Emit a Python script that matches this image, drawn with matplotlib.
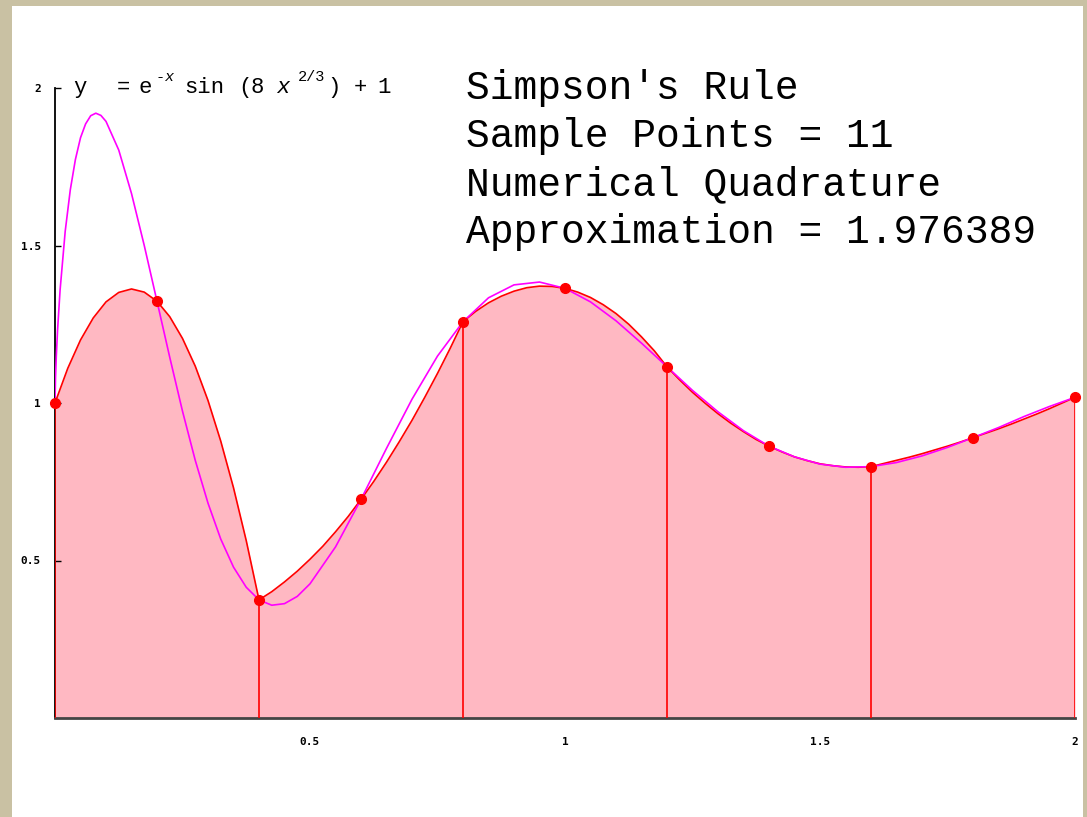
#!/usr/bin/env python
############################################################
import numpy as np
import matplotlib as mpl
import matplotlib.pyplot as plt
from matplotlib.patches import Rectangle

mpl.use('agg')
mpl.rcParams['axes.unicode_minus'] = False

############################################################
# values
############################################################
# function curve (magenta)
fx = [0, 0.001, 0.0025, 0.005, 0.01, 0.02, 0.03, 0.04, 0.05, 0.06,
      0.07, 0.08, 0.09, 0.1, 0.125, 0.15, 0.175, 0.2, 0.225, 0.25,
      0.275, 0.3, 0.325, 0.35, 0.375, 0.4, 0.425, 0.45, 0.475, 0.5,
      0.55, 0.6, 0.65, 0.7, 0.75, 0.8, 0.85, 0.9, 0.95, 1.0,
      1.05, 1.1, 1.15, 1.2, 1.25, 1.3, 1.35, 1.4, 1.45, 1.5,
      1.55, 1.6, 1.65, 1.7, 1.75, 1.8, 1.85, 1.9, 1.95, 2.0]
fy = [1.0, 1.080, 1.146, 1.231, 1.359, 1.545, 1.677, 1.773, 1.842, 1.886,
      1.912, 1.920, 1.913, 1.894, 1.803, 1.665, 1.500, 1.323, 1.145, 0.974,
      0.818, 0.682, 0.568, 0.479, 0.415, 0.375, 0.358, 0.363, 0.386, 0.426,
      0.543, 0.694, 0.856, 1.012, 1.149, 1.258, 1.334, 1.375, 1.384, 1.364,
      1.321, 1.261, 1.190, 1.115, 1.040, 0.972, 0.912, 0.863, 0.829, 0.806,
      0.796, 0.798, 0.811, 0.832, 0.859, 0.890, 0.922, 0.957, 0.989, 1.018]

# Simpson parabolas (red), every 0.025
sx = [0.0, 0.025, 0.05, 0.075, 0.1, 0.125, 0.15, 0.175, 0.2, 0.225,
      0.25, 0.275, 0.3, 0.325, 0.35, 0.375, 0.4, 0.425, 0.45, 0.475,
      0.5, 0.525, 0.55, 0.575, 0.6, 0.625, 0.65, 0.675, 0.7, 0.725,
      0.75, 0.775, 0.8, 0.825, 0.85, 0.875, 0.9, 0.925, 0.95, 0.975,
      1.0, 1.025, 1.05, 1.075, 1.1, 1.125, 1.15, 1.175, 1.2, 1.225,
      1.25, 1.275, 1.3, 1.325, 1.35, 1.375, 1.4, 1.425, 1.45, 1.475,
      1.5, 1.525, 1.55, 1.575, 1.6, 1.625, 1.65, 1.675, 1.7, 1.725,
      1.75, 1.775, 1.8, 1.825, 1.85, 1.875, 1.9, 1.925, 1.95, 1.975, 2.0]
sy = [1.000, 1.110, 1.200, 1.270, 1.321, 1.351, 1.362, 1.352, 1.323, 1.274,
      1.205, 1.117, 1.008, 0.879, 0.731, 0.563, 0.375, 0.401, 0.432, 0.466,
      0.504, 0.545, 0.591, 0.640, 0.694, 0.751, 0.812, 0.877, 0.945, 1.018,
      1.094, 1.174, 1.258, 1.291, 1.318, 1.339, 1.355, 1.366, 1.371, 1.370,
      1.364, 1.352, 1.335, 1.312, 1.284, 1.250, 1.210, 1.166, 1.115, 1.073,
      1.034, 0.999, 0.966, 0.936, 0.909, 0.884, 0.863, 0.845, 0.829, 0.817,
      0.807, 0.801, 0.797, 0.796, 0.798, 0.808, 0.818, 0.828, 0.839, 0.851,
      0.863, 0.876, 0.890, 0.904, 0.918, 0.933, 0.949, 0.965, 0.982, 1.000, 1.018]

# sample points
px = [0.0, 0.2, 0.4, 0.6, 0.8, 1.0, 1.2, 1.4, 1.6, 1.8, 2.0]
py = [1.0, 1.323, 0.375, 0.694, 1.258, 1.364, 1.115, 0.863, 0.798, 0.890, 1.018]

# panel edges
ex = [0.0, 0.4, 0.8, 1.2, 1.6, 2.0]
ey = [1.0, 0.375, 1.258, 1.115, 0.798, 1.018]

xticks = [0.5, 1, 1.5, 2]
yticks = [0.5, 1, 1.5, 2]
ticklabels = ['0.5', '1', '1.5', '2']
info = ["Simpson's Rule",
        "Sample Points = 11",
        "Numerical Quadrature",
        "Approximation = 1.976389"]

# formula pieces: (text, x pixel, superscript?, italic?)
formula = [('y', 73, False, False), ('=', 117, False, False),
           ('e', 139, False, False), ('-', 156, True, False),
           ('x', 164, True, True), ('sin', 184, False, False),
           ('(', 238, False, False), ('8', 251, False, False),
           ('x', 276, False, True), ('2/3', 298, True, False),
           (')', 327, False, False), ('+', 354, False, False),
           ('1', 377, False, False)]
############################################################

fig = plt.figure(figsize=(10.87, 8.17), dpi=100, facecolor='#C9C1A3')
fig.add_artist(Rectangle((12/1087, 0), 1071/1087, 811/817,
                         transform=fig.transFigure, facecolor='white',
                         edgecolor='none', zorder=0))

ax = fig.add_axes([55/1087, 99/817, 1020/1087, 630/817])
ax.set_facecolor('none')

ax.fill_between(sx, 0, sy, color='#FFB8C2', lw=0, zorder=1)
ax.plot(sx, sy, color='red', lw=1.2, zorder=3)
ax.vlines(ex, 0, ey, color='red', lw=1.2, zorder=3)
ax.plot(fx, fy, color='magenta', lw=1.2, zorder=4)
ax.plot(px, py, 'o', color='red', ms=7, zorder=5, clip_on=False)

ax.set_xlim(0, 2)
ax.set_ylim(0, 2)
ax.set_xticks(xticks)
ax.set_xticklabels(ticklabels)
ax.set_yticks(yticks)
ax.set_yticklabels(ticklabels)
for lab in ax.get_xticklabels() + ax.get_yticklabels():
    lab.set_family('DejaVu Sans Mono')
    lab.set_fontsize(8)
    lab.set_fontweight('bold')
ax.tick_params(axis='x', length=0, pad=14)
ax.tick_params(axis='y', direction='in', length=4, width=1, pad=10)

ax.spines['top'].set_visible(False)
ax.spines['right'].set_visible(False)
ax.spines['left'].set_linewidth(1.3)
ax.spines['left'].set_color('black')
ax.spines['bottom'].set_linewidth(2)
ax.spines['bottom'].set_color('#444444')

for txt, xp, sup, ital in formula:
    fig.text(xp/1087, 1 - (81 if sup else 93)/817, txt,
             family='Liberation Mono', fontsize=11 if sup else 16,
             style='italic' if ital else 'normal',
             ha='left', va='baseline')

for ii, line in enumerate(info):
    fig.text(466/1087, 1 - (99 + 48*ii)/817, line,
             family='Liberation Mono', fontsize=28.5,
             ha='left', va='baseline', color='black')

plt.savefig('out.png', dpi=100, facecolor=fig.get_facecolor())
